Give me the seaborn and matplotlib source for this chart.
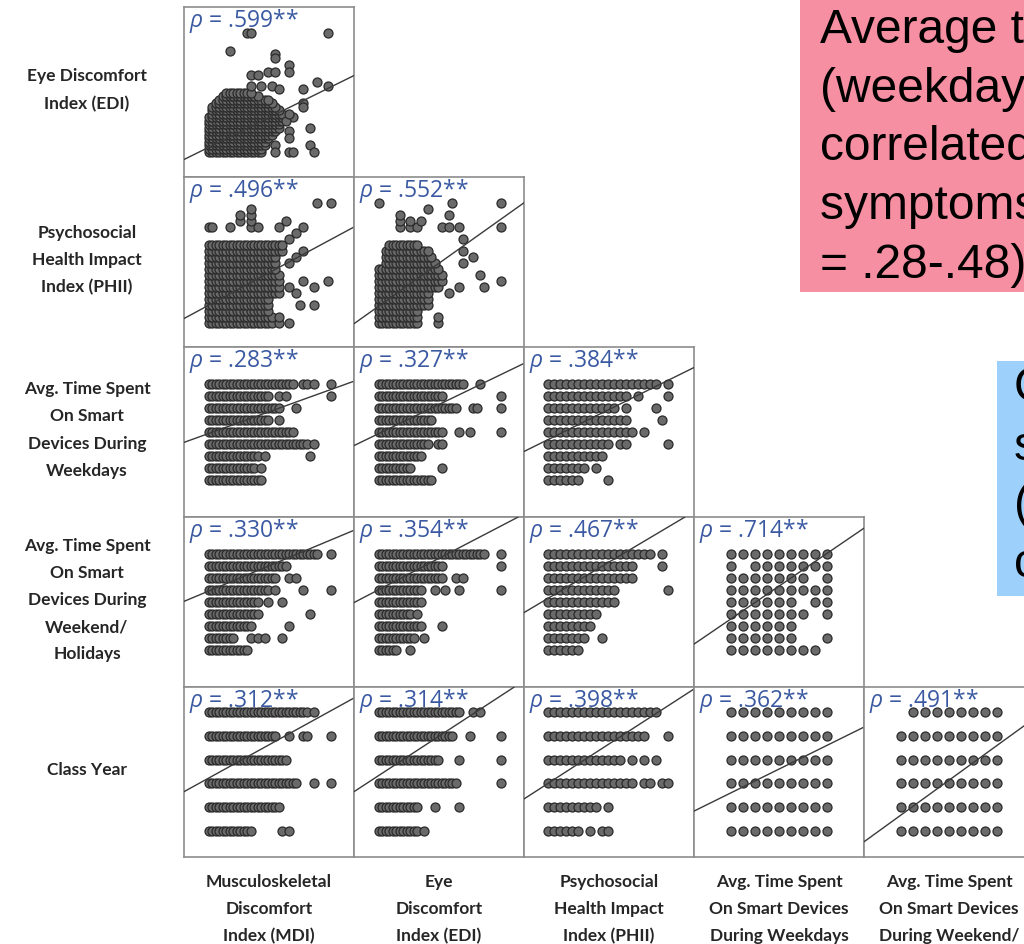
import matplotlib
matplotlib.use("Agg")
import matplotlib.pyplot as plt
import matplotlib.patches as mpatches
import seaborn as sns
import pandas as pd

sns.set_theme(style="white")
plt.rcParams["font.family"] = ["Lato", "DejaVu Sans"]
plt.rcParams["mathtext.fontset"] = "custom"
plt.rcParams["mathtext.it"] = "Open Sans:italic"
plt.rcParams["mathtext.rm"] = "Open Sans"

# variables on each row (y) and column (x)
row_vars = ["EDI", "PHII", "wkday", "wkend", "year"]
col_vars = ["MDI", "EDI", "PHII", "wkday", "wkend"]
row_labels = [
    "Eye Discomfort\nIndex (EDI)",
    "Psychosocial\nHealth Impact\nIndex (PHII)",
    "Avg. Time Spent\nOn Smart\nDevices During\nWeekdays",
    "Avg. Time Spent\nOn Smart\nDevices During\nWeekend/\nHolidays",
    "Class Year",
]
col_labels = [
    "Musculoskeletal\nDiscomfort\nIndex (MDI)",
    "Eye\nDiscomfort\nIndex (EDI)",
    "Psychosocial\nHealth Impact\nIndex (PHII)",
    "Avg. Time Spent\nOn Smart Devices\nDuring Weekdays",
    "Avg. Time Spent\nOn Smart Devices\nDuring Weekend/",
]
axis_lims = {
    "MDI": (-6, 42.57), "EDI": (-6, 42.57), "PHII": (-4, 24.33),
    "wkday": (-3.1, 11.07), "wkend": (-3.1, 11.07), "year": (-1.09, 6.05),
}

# spearman rho per panel, (row, col)
rho = {
    (0, 0): ".599", (1, 0): ".496", (1, 1): ".552",
    (2, 0): ".283", (2, 1): ".327", (2, 2): ".384",
    (3, 0): ".330", (3, 1): ".354", (3, 2): ".467", (3, 3): ".714",
    (4, 0): ".312", (4, 1): ".314", (4, 2): ".398", (4, 3): ".362", (4, 4): ".491",
}
# fitted line (slope, intercept) per panel, in data units
fit = {
    (0, 0): (0.494, 1.96), (1, 0): (0.314, 2.63), (1, 1): (0.415, 2.37),
    (2, 0): (0.105, 3.75), (2, 1): (0.141, 3.70), (2, 2): (0.247, 3.35),
    (3, 0): (0.122, 4.77), (3, 1): (0.152, 4.85), (3, 2): (0.297, 4.29), (3, 3): (0.682, 2.59),
    (4, 0): (0.081, 2.14), (4, 1): (0.096, 2.23), (4, 2): (0.163, 2.00), (4, 3): (0.249, 1.61),
    (4, 4): (0.365, 0.68),
}

# observed points: runs are (y, x_from, x_to) filled in steps of 1, extras are (x, y)
edi_mdi_runs = [(1, 1, 16), (2, 1, 16), (3, 1, 17), (4, 1, 17), (5, 1, 18), (6, 1, 19),
                (7, 1, 20), (8, 1, 21), (9, 1, 21), (10, 1, 22), (11, 1, 22), (12, 2, 22),
                (13, 2, 21), (14, 2, 20), (15, 3, 19), (16, 4, 18), (17, 5, 15), (18, 6, 13)]
edi_mdi_extra = [(12, 35), (13, 35), (35, 35), (7, 30), (20, 29), (20, 28), (24, 26), (24, 24),
                 (13, 23), (15, 23), (18, 24), (20, 24), (32, 21), (35, 20), (13, 20), (16, 20),
                 (19, 20), (21, 19), (28, 19), (28, 15), (28, 14), (25, 11), (24, 7), (24, 5),
                 (30, 8), (30, 3), (31, 1), (24, 1), (25, 1), (20, 3), (20, 1), (23, 10), (24, 12)]

phii_mdi_runs = [(0, 1, 19), (1, 1, 19), (2, 1, 18), (3, 1, 18), (4, 1, 18), (5, 1, 21),
                 (6, 1, 21), (7, 1, 21), (8, 1, 21), (9, 1, 20), (10, 1, 20), (11, 1, 20),
                 (12, 1, 22), (13, 1, 22)]
phii_mdi_extra = [(21, 0), (24, 0), (21, 1), (27, 3), (31, 3), (24, 6), (26, 5), (28, 7), (31, 6),
                  (35, 7), (24, 10), (26, 11), (28, 12), (24, 14), (26, 15), (1, 16), (2, 16),
                  (7, 16), (13, 16), (15, 16), (21, 16), (28, 16), (10, 17), (13, 17), (23, 17),
                  (10, 18), (13, 18), (13, 19), (32, 20), (36, 20)]

phii_edi_runs = [(0, 1, 12), (1, 1, 12), (2, 1, 12), (3, 1, 15), (4, 1, 15), (5, 1, 15),
                 (6, 1, 18), (7, 1, 19), (8, 1, 19), (9, 1, 18), (10, 3, 17), (11, 3, 16),
                 (12, 3, 15), (13, 4, 12)]
phii_edi_extra = [(18, 0), (18, 1), (21, 5), (24, 6), (31, 6), (36, 7), (25, 10), (28, 11),
                  (30, 8), (25, 12), (25, 14), (7, 16), (10, 16), (12, 16), (19, 16), (21, 16),
                  (24, 16), (7, 17), (10, 17), (13, 17), (7, 18), (21, 18), (15, 19), (1, 20),
                  (22, 20), (36, 20), (36, 16)]

wkday_mdi_runs = [(8, 1, 25), (7, 1, 18), (6, 1, 21), (5, 1, 18), (4, 1, 25), (3, 1, 29),
                  (2, 1, 15), (1, 1, 14), (0, 1, 16)]
wkday_mdi_extra = [(28, 8), (29, 8), (31, 8), (36, 8), (21, 7), (23, 7), (36, 7), (26, 6),
                   (21, 5), (31, 3), (17, 2), (30, 2), (16, 1)]
wkday_edi_runs = [(8, 1, 25), (7, 1, 19), (6, 1, 23), (5, 1, 16), (4, 1, 19), (3, 1, 15),
                  (2, 1, 13), (1, 1, 10), (0, 1, 16)]
wkday_edi_extra = [(30, 8), (36, 7), (28, 6), (29, 6), (36, 6), (24, 4), (27, 4), (36, 4),
                   (18, 3), (19, 3), (19, 1)]
wkday_phii_runs = [(8, 0, 18), (7, 0, 13), (6, 0, 11), (5, 0, 13), (4, 0, 14), (3, 0, 10),
                   (2, 0, 9), (1, 0, 6), (0, 0, 5)]
wkday_phii_extra = [(20, 8), (15, 7), (20, 7), (13, 6), (18, 6), (19, 5), (16, 4), (12, 3),
                    (13, 3), (20, 3), (8, 1), (10, 0)]

wkend_mdi_runs = [(8, 1, 32), (7, 1, 23), (6, 1, 20), (5, 1, 18), (4, 1, 15), (3, 1, 15),
                  (2, 1, 13), (1, 1, 8), (0, 1, 12)]
wkend_mdi_extra = [(36, 8), (24, 6), (26, 6), (20, 5), (28, 5), (36, 5), (18, 4), (22, 4),
                   (30, 3), (24, 2), (13, 1), (15, 1), (17, 1), (22, 1)]
wkend_edi_runs = [(8, 1, 31), (7, 1, 19), (6, 1, 19), (5, 1, 13), (4, 1, 13), (3, 1, 10),
                  (2, 1, 13), (1, 1, 11), (0, 1, 6)]
wkend_edi_extra = [(36, 8), (36, 7), (23, 6), (25, 6), (17, 5), (20, 5), (24, 5), (36, 5),
                   (12, 3), (19, 2), (14, 1), (10, 0)]
wkend_phii_runs = [(8, 0, 17), (7, 0, 14), (6, 0, 14), (5, 0, 11), (4, 0, 11), (3, 0, 8),
                   (2, 0, 7), (1, 0, 6), (0, 0, 5)]
wkend_phii_extra = [(19, 8), (19, 7), (20, 5), (9, 1)]
wkend_wkday_runs = [(8, 0, 8), (7, 2, 8), (6, 0, 6), (5, 0, 8), (4, 0, 5), (3, 0, 6),
                    (2, 0, 5), (1, 0, 5), (0, 0, 7)]
wkend_wkday_extra = [(0, 7), (8, 6), (7, 4), (8, 4), (8, 3), (8, 1)]

year_mdi_runs = [(5, 1, 29), (4, 1, 20), (3, 1, 23), (2, 1, 26), (1, 1, 21), (0, 1, 13)]
year_mdi_extra = [(31, 5), (24, 4), (28, 4), (29, 4), (36, 4), (31, 2), (36, 2), (22, 0), (24, 0)]
year_edi_runs = [(5, 1, 24), (4, 1, 22), (3, 1, 18), (2, 1, 23), (1, 1, 12), (0, 1, 12)]
year_edi_extra = [(28, 5), (30, 5), (27, 4), (36, 4), (24, 3), (36, 3), (36, 2), (17, 1),
                  (24, 1), (14, 0)]
year_phii_runs = [(5, 0, 18), (4, 0, 16), (3, 0, 12), (2, 0, 14), (1, 0, 8), (0, 0, 5)]
year_phii_extra = [(20, 4), (14, 3), (16, 3), (18, 3), (16, 2), (17, 2), (19, 2), (20, 2),
                   (10, 1), (7, 0), (9, 0), (10, 0)]
year_wkday_runs = [(5, 0, 8), (4, 0, 8), (3, 0, 8), (2, 0, 8), (1, 0, 8), (0, 0, 8)]
year_wkday_extra = []
year_wkend_runs = [(5, 1, 8), (4, 0, 8), (3, 0, 8), (2, 0, 8), (1, 0, 8), (0, 0, 8)]
year_wkend_extra = []

panel_points = {
    (0, 0): (edi_mdi_runs, edi_mdi_extra),
    (1, 0): (phii_mdi_runs, phii_mdi_extra), (1, 1): (phii_edi_runs, phii_edi_extra),
    (2, 0): (wkday_mdi_runs, wkday_mdi_extra), (2, 1): (wkday_edi_runs, wkday_edi_extra),
    (2, 2): (wkday_phii_runs, wkday_phii_extra),
    (3, 0): (wkend_mdi_runs, wkend_mdi_extra), (3, 1): (wkend_edi_runs, wkend_edi_extra),
    (3, 2): (wkend_phii_runs, wkend_phii_extra), (3, 3): (wkend_wkday_runs, wkend_wkday_extra),
    (4, 0): (year_mdi_runs, year_mdi_extra), (4, 1): (year_edi_runs, year_edi_extra),
    (4, 2): (year_phii_runs, year_phii_extra), (4, 3): (year_wkday_runs, year_wkday_extra),
    (4, 4): (year_wkend_runs, year_wkend_extra),
}

W, H = 1024, 945
LEFT, TOP, CELL = 184, 8, 170

fig = plt.figure(figsize=(W / 100, H / 100), dpi=100)

for (r, c), (runs, extra) in panel_points.items():
    ax = fig.add_axes([(LEFT + CELL * c) / W, 1 - (TOP + CELL * (r + 1)) / H, CELL / W, CELL / H])
    pts = [(x, y) for y, a, b in runs for x in range(a, b + 1)] + list(extra)
    df = pd.DataFrame(pts, columns=["x", "y"])
    sns.scatterplot(data=df, x="x", y="y", ax=ax, s=42, color="#6a6a6a",
                    edgecolor="#2a2a2a", linewidth=0.9, legend=False, zorder=2)
    slope, icpt = fit[(r, c)]
    ax.axline((0, icpt), slope=slope, color="#3a3a3a", lw=1, zorder=3)
    ax.set_xlim(axis_lims[col_vars[c]])
    ax.set_ylim(axis_lims[row_vars[r]])
    ax.set_xticks([])
    ax.set_yticks([])
    ax.set_xlabel("")
    ax.set_ylabel("")
    for sp in ax.spines.values():
        sp.set_color("#8c8c8c")
        sp.set_linewidth(1.2)
    ax.text(0.03, 1.005, r"$\rho$ = " + rho[(r, c)] + "**", transform=ax.transAxes,
            va="top", ha="left", color="#3a59a2", fontsize=16.5, family="Open Sans",
            zorder=4)

# row labels
for r, lab in enumerate(row_labels):
    yc = TOP + CELL * r + CELL / 2 - 3
    fig.text(87 / W, 1 - yc / H, lab, ha="center", va="center", fontsize=12.5,
             fontweight="bold", linespacing=1.85)

# column labels
for c, lab in enumerate(col_labels):
    xc = LEFT + CELL * c + CELL / 2
    fig.text(xc / W, 1 - 874 / H, lab, ha="center", va="top", fontsize=12.5,
             fontweight="bold", linespacing=1.85)

# callout boxes on the right
fig.patches.append(mpatches.Rectangle((800 / W, 1 - 293 / H), 240 / W, 293 / H,
                                      transform=fig.transFigure, facecolor="#f58fa1",
                                      edgecolor="none", zorder=1))
fig.text(820 / W, 1 - 8 / H, "Average time\n(weekday/weekend)\ncorrelated with\nsymptoms (ρ\n= .28-.48)",
         ha="left", va="top", fontsize=34.5, family="Liberation Sans", color="black",
         linespacing=1.39, zorder=2)
fig.patches.append(mpatches.Rectangle((997 / W, 1 - 597 / H), 60 / W, 235 / H,
                                      transform=fig.transFigure, facecolor="#9dd1fb",
                                      edgecolor="none", zorder=1))
fig.text(1014 / W, 1 - 366 / H, "Class year\nsignificantly\n(ρ = .31-.49)\ncorrelated",
         ha="left", va="top", fontsize=34.5, family="Liberation Sans", color="black",
         linespacing=1.39, zorder=2)

fig.savefig("out.png", dpi=100)
